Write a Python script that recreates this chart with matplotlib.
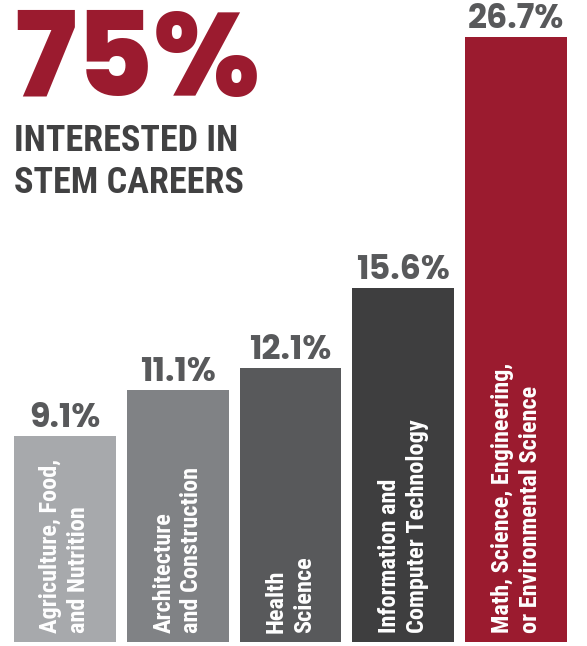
import numpy as np
import matplotlib.pyplot as plt

# data
categories = ['Agriculture, Food,\nand Nutrition',
              'Architecture\nand Construction',
              'Health\nScience',
              'Information and\nComputer Technology',
              'Math, Science, Engineering,\nor Environmental Science']
values = [9.1, 11.1, 12.1, 15.6, 26.7]
value_labels = ['9.1%', '11.1%', '12.1%', '15.6%', '26.7%']
headline = '75%'
subhead = 'INTERESTED IN\nSTEM CAREERS'

bar_colors = ['#a7a9ac', '#808285', '#58595b', '#3e3e3f', '#9b1b2f']
red = '#9b1b2f'
gray_text = '#58595b'
dark_text = '#414142'

W, H = 587, 646
px_per_unit = 22.67          # vertical pixels per percentage point
ymin = -4 / px_per_unit      # baseline sits a few px below the image edge
ymax = ymin + H / px_per_unit

fig = plt.figure(figsize=(W / 100, H / 100), dpi=100)
ax = fig.add_axes([8.5 / W, 0, 564 / W, 1])
ax.set_xlim(-0.5, 4.5)
ax.set_ylim(ymin, ymax)
ax.axis('off')

x = np.arange(len(values))
ax.bar(x, values, width=102 / 113, color=bar_colors, linewidth=0)

# value labels above the bars
for xi, v, lab in zip(x, values, value_labels):
    ax.text(xi, v + 9 / px_per_unit, lab, ha='center', va='baseline',
            fontsize=24, fontweight=700, family='Poppins',
            color=gray_text)

# category labels inside the bars, rotated
for xi, cat in zip(x, categories):
    ax.text(xi, ymin + 13 / px_per_unit, cat, rotation=90,
            ha='center', va='bottom', multialignment='left',
            fontsize=17.5, fontweight='bold', family='Roboto Condensed',
            color='white', linespacing=1.27)

# headline block
fig.text(14 / W, 1 - 96 / H, headline, ha='left', va='baseline',
         fontsize=85, fontweight=800, family='Poppins', color=red)
# multi-line baseline refers to the last line
fig.text(14 / W, 1 - 193 / H, subhead, ha='left', va='baseline',
         fontsize=26, fontweight='bold', family='Roboto Condensed',
         color=dark_text, linespacing=1.22)

fig.savefig('out.png', dpi=100)
